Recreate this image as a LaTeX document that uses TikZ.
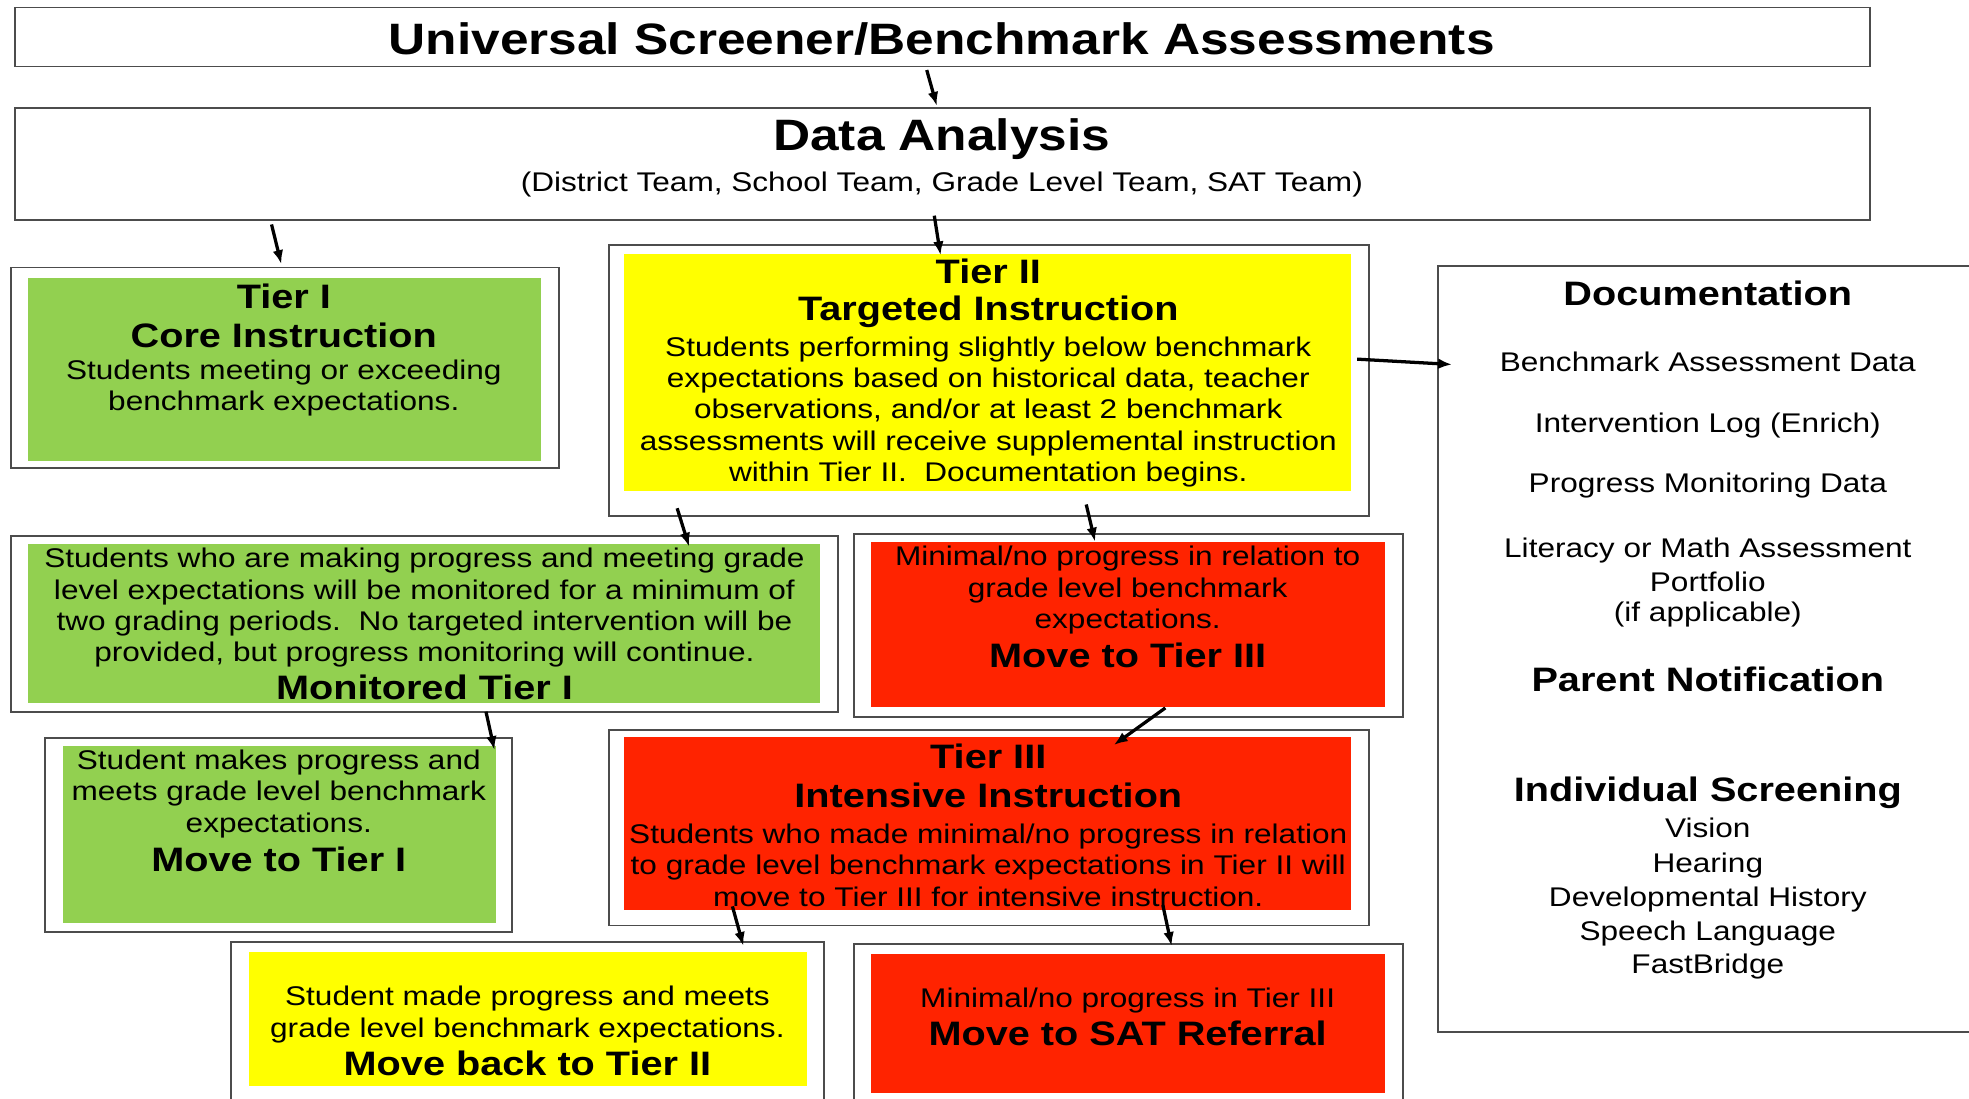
\documentclass[tikz,border=0pt]{standalone}
\usepackage{fontspec}
\setmainfont{Liberation Sans}[FakeStretch=1.17]
\usetikzlibrary{fit,arrows.meta}
\definecolor{tgreen}{RGB}{146,208,80}
\definecolor{tyellow}{RGB}{255,255,0}
\definecolor{tred}{RGB}{255,35,0}
\newcommand{\bigfont}{\fontsize{35}{40}\selectfont\bfseries}
\newcommand{\hdfont}{\fontsize{27}{31}\selectfont\bfseries}
\newcommand{\bdfont}{\fontsize{21.5}{25}\selectfont}
\tikzset{
  frame/.style={draw=black!70, line width=1.5pt, inner sep=0pt},
  big/.style={font=\bigfont, inner sep=0pt},
  hd/.style={font=\hdfont, inner sep=0pt},
  bd/.style={font=\bdfont, align=center, inner sep=0pt},
  arr/.style={-{Latex[length=11pt,width=8.5pt]}, line width=2.6pt}
}
\begin{document}
\begin{tikzpicture}[x=1pt,y=-1pt]
\useasboundingbox (0,0) rectangle (1568,875);
\clip (0,0) rectangle (1568,875);
% outer frames
\node[frame, fit={(12,6) (1489,53)}] (title) {};
\node[frame, fit={(12,86) (1489,175)}] (da) {};
\node[frame, fit={(9,213) (445,373)}] (t1) {};
\node[frame, fit={(485,195) (1090,411)}] (t2) {};
\node[frame, fit={(1145,212) (1600,822)}] (doc) {};
\node[frame, fit={(9,427) (667,567)}] (mon) {};
\node[frame, fit={(680,425) (1117,571)}] (m3) {};
\node[frame, fit={(36,588) (408,742)}] (m1) {};
\node[frame, fit={(485,581) (1090,737)}] (t3) {};
\node[frame, fit={(184,750) (656,900)}] (mb2) {};
\node[frame, fit={(680,752) (1117,900)}] (sat) {};
% coloured panels
\fill[tgreen] (22,221) rectangle (431,367);
\fill[tyellow] (497,202) rectangle (1076,391);
\fill[tgreen] (22,433) rectangle (653,560);
\fill[tred] (694,432) rectangle (1103,563);
\fill[tgreen] (50,594) rectangle (395,735);
\fill[tred] (497,587) rectangle (1076,725);
\fill[tyellow] (198,758) rectangle (643,865);
\fill[tred] (694,760) rectangle (1103,870);
% top
\node[big] (titletxt) at (750,31) {Universal Screener/Benchmark Assessments};
\node[big] (datxt) at (750,111) {Data Analysis};
\node[bd] (dasub) at (750,147) {(District Team, School Team, Grade Level Team, SAT Team)};
% tier I
\node[hd] (t1a) at (226,236) {Tier I};
\node[hd] (t1b) at (226,267) {Core Instruction};
\node[bd] (t1c) at (226,309) {Students meeting or exceeding\\benchmark expectations.};
% tier II
\node[hd] (t2a) at (787,216) {Tier II};
\node[hd] (t2b) at (787,248) {Targeted Instruction};
\node[bd] (t2c) at (787,328) {Students performing slightly below benchmark\\
  expectations based on historical data, teacher\\
  observations, and/or at least 2 benchmark\\
  assessments will receive supplemental instruction\\
  within Tier II.\ \ Documentation begins.};
% monitored
\node[bd] (mona) at (338,484) {Students who are making progress and meeting grade\\
  level expectations will be monitored for a minimum of\\
  two grading periods.\ \ No targeted intervention will be\\
  provided, but progress monitoring will continue.};
\node[hd] (monb) at (338,547) {Monitored Tier I};
% move to tier III
\node[bd] (m3a) at (898,470) {Minimal/no progress in relation to\\grade level benchmark\\expectations.};
\node[hd] (m3b) at (898,522) {Move to Tier III};
% move to tier I
\node[bd] (m1a) at (222,632) {Student makes progress and\\meets grade level benchmark\\expectations.};
\node[hd] (m1b) at (222,684) {Move to Tier I};
% tier III
\node[hd] (t3a) at (787,602) {Tier III};
\node[hd] (t3b) at (787,633) {Intensive Instruction};
\node[bd] (t3c) at (787,689) {Students who made minimal/no progress in relation\\
  to grade level benchmark expectations in Tier II will\\
  move to Tier III for intensive instruction.};
% bottom row
\node[bd] (mb2a) at (420,808) {Student made progress and meets\\grade level benchmark expectations.};
\node[hd] (mb2b) at (420,847) {Move back to Tier II};
\node[bd] (sata) at (898,797) {Minimal/no progress in Tier III};
\node[hd] (satb) at (898,823) {Move to SAT Referral};
% documentation column
\node[hd] (doca) at (1360,234) {Documentation};
\foreach \t/\y [count=\i] in {Benchmark Assessment Data/288, Intervention Log (Enrich)/339,
  Progress Monitoring Data/387, Literacy or Math Assessment/438, Portfolio/463,
  (if applicable)/489, Vision/659, Hearing/689, Developmental History/716,
  Speech Language/743, FastBridge/770}
  \node[bd] (doci\i) at (1360,\y) {\t};
\node[hd] (docb) at (1360,541) {Parent Notification};
\node[hd] (docc) at (1360,631) {Individual Screening};
% arrows
\draw[arr] ([xshift=-12.5,yshift=-2]title.south) -- ([xshift=-4.5,yshift=1]da.north);
\draw[arr] ([xshift=205,yshift=-3]da.south west) -- ([xshift=-3,yshift=2]t1.north);
\draw[arr] ([xshift=-6.5,yshift=4]da.south) -- ([xshift=-38.5,yshift=-9]t2.north);
\draw[arr] ([xshift=-10,yshift=17]t2.east) -- ([xshift=12,yshift=-79]doc.north west);
\draw[arr] ([xshift=55,yshift=7]t2.south west) -- ([xshift=-119,yshift=-9]mon.north east);
\draw[arr] ([xshift=77.5,yshift=10]t2.south) -- ([xshift=-26.5,yshift=-7]m3.north);
\draw[arr] ([xshift=29.5,yshift=8]m3.south) -- ([xshift=99.5,yshift=-13]t3.north);
\draw[arr] ([xshift=49,yshift=1]mon.south) -- ([xshift=-15,yshift=-10]m1.north east);
\draw[arr] ([xshift=99,yshift=16]t3.south west) -- ([xshift=172,yshift=-4]mb2.north);
\draw[arr] ([xshift=138.5,yshift=17]t3.south) -- ([xshift=34.5,yshift=-2]sat.north);
\end{tikzpicture}
\end{document}
